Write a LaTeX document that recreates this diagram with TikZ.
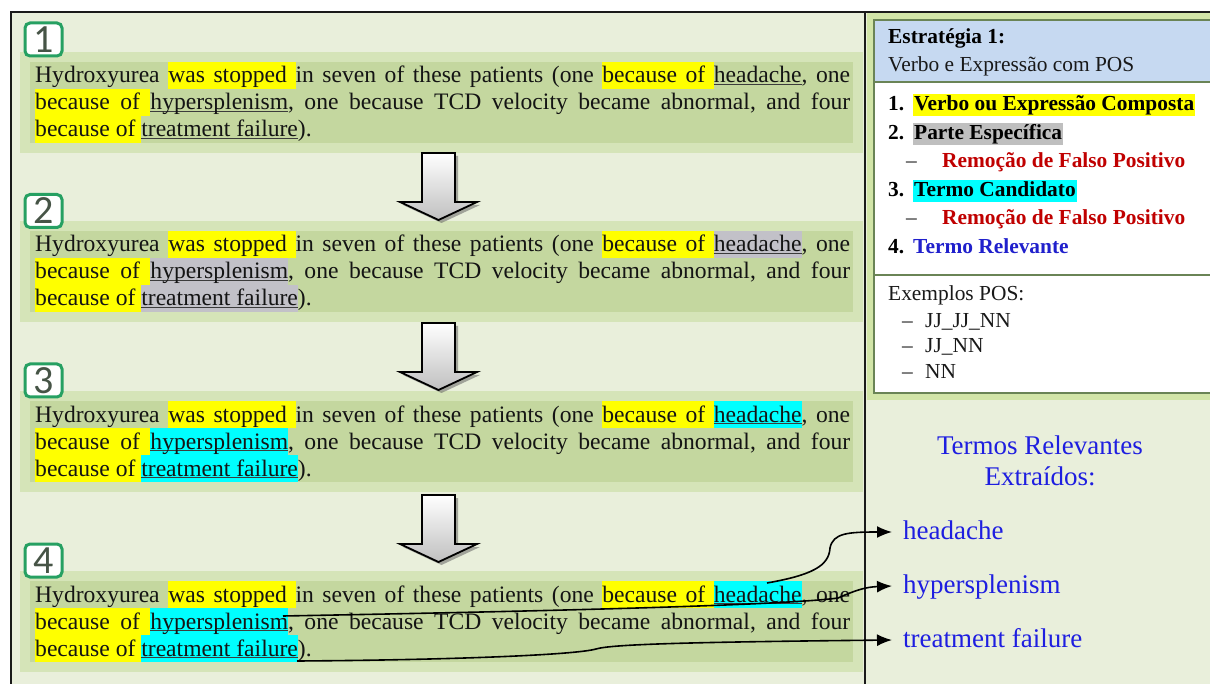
\documentclass[tikz,border=0pt]{standalone}
\usepackage{fontspec}
\setmainfont{Liberation Serif}
\newfontfamily\numfont{Carlito}
\usetikzlibrary{arrows.meta,shadows}

\definecolor{pagebg}{HTML}{E9EFDB}
\definecolor{panelfill}{HTML}{C4D79F}
\definecolor{panelglow}{HTML}{D5E4B8}
\definecolor{hly}{HTML}{FFFF00}
\definecolor{hlc}{HTML}{00FFFF}
\definecolor{hlg}{HTML}{C2C1C8}
\definecolor{hlgray}{HTML}{BFBFBF}
\definecolor{ulcol}{HTML}{3C3C3C}
\definecolor{bodytext}{HTML}{141414}
\definecolor{numgreen}{HTML}{26A062}
\definecolor{numtext}{HTML}{465446}
\definecolor{boxedge}{HTML}{6A8456}
\definecolor{boxglow}{HTML}{D2E5A8}
\definecolor{headblue}{HTML}{C6D9F1}
\definecolor{redtxt}{HTML}{C00000}
\definecolor{bluetxt}{HTML}{2020CC}
\definecolor{termblue}{HTML}{1E1EE0}
\definecolor{framecol}{HTML}{1A1A1A}

% stretchable inter-word gaps, plain or highlighted
\newcommand\sgap{\hskip 3pt plus 1fill\relax}
\newcommand\cgap[1]{{\color{#1}\leaders\vrule height 21pt depth 6pt\hskip 3pt plus 1fill}}
% highlighted word (full line height)
\newcommand\hlword[2]{{\setlength\fboxsep{0pt}\colorbox{#1}{\vrule width 0pt height 21pt depth 6pt#2}}}
% underlined word, rule just below the baseline
\newcommand\ulword[1]{\setbox0=\hbox{#1}\rlap{\color{ulcol}\rule[-2.4pt]{\wd0}{1.1pt}}\box0}
% highlighted item in the strategy list
\newcommand\hlbox[2]{{\setlength\fboxsep{0pt}\colorbox{#1}{\vrule width 0pt height 17pt depth 5pt\kern1pt#2\kern1pt}}}

% one three-line example sentence: name prefix, first baseline, the three terms
\newcommand\sentence[5]{%
  \node[sentline] (#1a) at (35,#2) {\hbox to 815pt{Hydroxyurea\sgap\hlword{hly}{was}\cgap{hly}\hlword{hly}{stopped}\cgap{hly}in\sgap seven\sgap of\sgap these\sgap patients\sgap (one\sgap\hlword{hly}{because}\cgap{hly}\hlword{hly}{of}\cgap{hly}#3,\sgap one}};
  \node[sentline] (#1b) at (35,#2+27) {\hbox to 815pt{\hlword{hly}{because}\cgap{hly}\hlword{hly}{of}\cgap{hly}#4,\sgap one\sgap because\sgap TCD\sgap velocity\sgap became\sgap abnormal,\sgap and\sgap four}};
  \node[sentline] (#1c) at (35,#2+54) {\hbox{\hlword{hly}{because of\ }#5).}};
}

\tikzset{
  sentline/.style={anchor=base west, inner sep=0pt, font=\fontsize{23.6}{27}\selectfont, text=bodytext},
  numbox/.style={draw=numgreen, line width=3pt, rounded corners=5pt, fill=white,
    minimum width=37pt, minimum height=33pt, inner sep=0pt,
    font=\numfont\fontsize{40}{40}\selectfont, text=numtext},
  panelglowline/.style={draw=panelglow, line width=10pt, fill=panelfill},
  arrowbody/.style={draw=black, line width=1.8pt, line join=miter, top color=white, bottom color=gray!50,
    drop shadow={shadow xshift=3pt, shadow yshift=-3pt, opacity=0.55, fill=black!60}},
  downarrow/.pic={\path[arrowbody] (-16.5,0) -- (16.5,0) -- (16.5,49) -- (38.5,49) -- (0,67) -- (-38.5,49) -- (-16.5,49) -- cycle;},
  rb/.style={anchor=base west, inner sep=0pt, font=\fontsize{21.4}{25}\selectfont\bfseries, text=black},
  rn/.style={anchor=base west, inner sep=0pt, font=\fontsize{21.4}{25}\selectfont, text=black!90},
  headterm/.style={anchor=base, inner sep=0pt, font=\fontsize{27}{31}\selectfont, text=termblue},
  termitem/.style={anchor=base west, inner xsep=11pt, inner ysep=0pt, text height=19pt, text depth=5pt,
    font=\fontsize{27}{31}\selectfont, text=termblue},
  conn/.style={draw=black, line width=1.6pt, -{Latex[length=15pt,width=12pt]}},
  frame/.style={draw=framecol, line width=2pt},
}

\begin{document}
\begin{tikzpicture}[x=1pt, y=-1pt]
\useasboundingbox (0,0) rectangle (1210,684);
\fill[white] (0,0) rectangle (1210,684);
\fill[pagebg] (11,12) rectangle (1214,688);

% example panels
\path[panelglowline] (25,57) rectangle (858,148);
\path[panelglowline] (25,226) rectangle (858,317);
\path[panelglowline] (25,396) rectangle (858,487);
\path[panelglowline] (25,576) rectangle (858,667);

% step numbers
\node[numbox] (n1) at (43.5,39.5) {1};
\node[numbox] (n2) at (43.5,211) {2};
\node[numbox] (n3) at (43.5,380.5) {3};
\node[numbox] (n4) at (43.5,560.5) {4};

% sentences
\sentence{s1}{83}{\ulword{headache}}{\ulword{hypersplenism}}{\ulword{treatment failure}}
\sentence{s2}{252}{\hlword{hlg}{\ulword{headache}}}{\hlword{hlg}{\ulword{hypersplenism}}}{\hlword{hlg}{\ulword{treatment failure}}}
\sentence{s3}{422}{\hlword{hlc}{\ulword{headache}}}{\hlword{hlc}{\ulword{hypersplenism}}}{\hlword{hlc}{\ulword{treatment failure}}}
\sentence{s4}{602}{\hlword{hlc}{\ulword{headache}}}{\hlword{hlc}{\ulword{hypersplenism}}}{\hlword{hlc}{\ulword{treatment failure}}}

% step arrows
\pic (a1) at (438.5,153) {downarrow};
\pic (a2) at (438.5,323) {downarrow};
\pic (a3) at (438.5,495) {downarrow};

% strategy box
\draw[boxglow, line width=14pt] (874,20) rectangle (1216,393);
\draw[boxedge, line width=1.3pt, fill=white] (874,20) rectangle (1216,393);
\draw[boxedge, line width=1.3pt, fill=headblue] (874,20) rectangle (1216,82);
\draw[boxedge, line width=1.3pt] (874,275) -- (1216,275);

\node[rb] (st1) at (888,44) {Estratégia 1:};
\node[rn] (st2) at (888,72) {Verbo e Expressão com POS};
\node[rb] (i1n) at (888,111) {1.};
\node[rb] (i1) at (913,111) {\hlbox{hly}{Verbo ou Expressão Composta}};
\node[rb] (i2n) at (888,140) {2.};
\node[rb] (i2) at (913,140) {\hlbox{hlgray}{Parte Específica}};
\node[rn] (d1) at (906,168) {–};
\node[rb, text=redtxt] (i2r) at (942,168) {Remoção de Falso Positivo};
\node[rb] (i3n) at (888,197) {3.};
\node[rb] (i3) at (913,197) {\hlbox{hlc}{Termo Candidato}};
\node[rn] (d2) at (906,225) {–};
\node[rb, text=redtxt] (i3r) at (942,225) {Remoção de Falso Positivo};
\node[rb] (i4n) at (888,254) {4.};
\node[rb, text=bluetxt] (i4) at (913,254) {Termo Relevante};

\node[rn] (ex) at (888,301) {Exemplos POS:};
\node[rn] (e1d) at (902,328) {–};
\node[rn] (e1) at (925,328) {JJ\_JJ\_NN};
\node[rn] (e2d) at (902,353) {–};
\node[rn] (e2) at (925,353) {JJ\_NN};
\node[rn] (e3d) at (902,379) {–};
\node[rn] (e3) at (925,379) {NN};

% extracted terms
\node[headterm] (h1) at (1040,454) {Termos Relevantes};
\node[headterm] (h2) at (1040,485) {Extraídos:};
\node[termitem] (t1) at (892,539) {headache};
\node[termitem] (t2) at (892,593) {hypersplenism};
\node[termitem] (t3) at (892,647) {treatment failure};

% frame
\draw[frame] (10,12) -- (1214,12);
\draw[frame] (11,12) -- (11,688);
\draw[frame] (865,12) -- (865,688);

% connectors from the last sentence to the extracted terms
\coordinate (src1) at (767,583);
\coordinate (src2) at (283,616);
\coordinate (src3) at (297,661);
\draw[conn] (src1) .. controls (812,575) and (829,566) .. (830,548) .. controls (833,533) and (848,532) .. (t1.west);
\draw[conn] (src2) .. controls (500,612) and (780,606) .. (838,598) .. controls (856,590) and (866,587) .. (t2.west);
\draw[conn] (src3) .. controls (450,660) and (575,655) .. (596,649) .. controls (612,644) and (700,642) .. (t3.west);
\end{tikzpicture}
\end{document}
